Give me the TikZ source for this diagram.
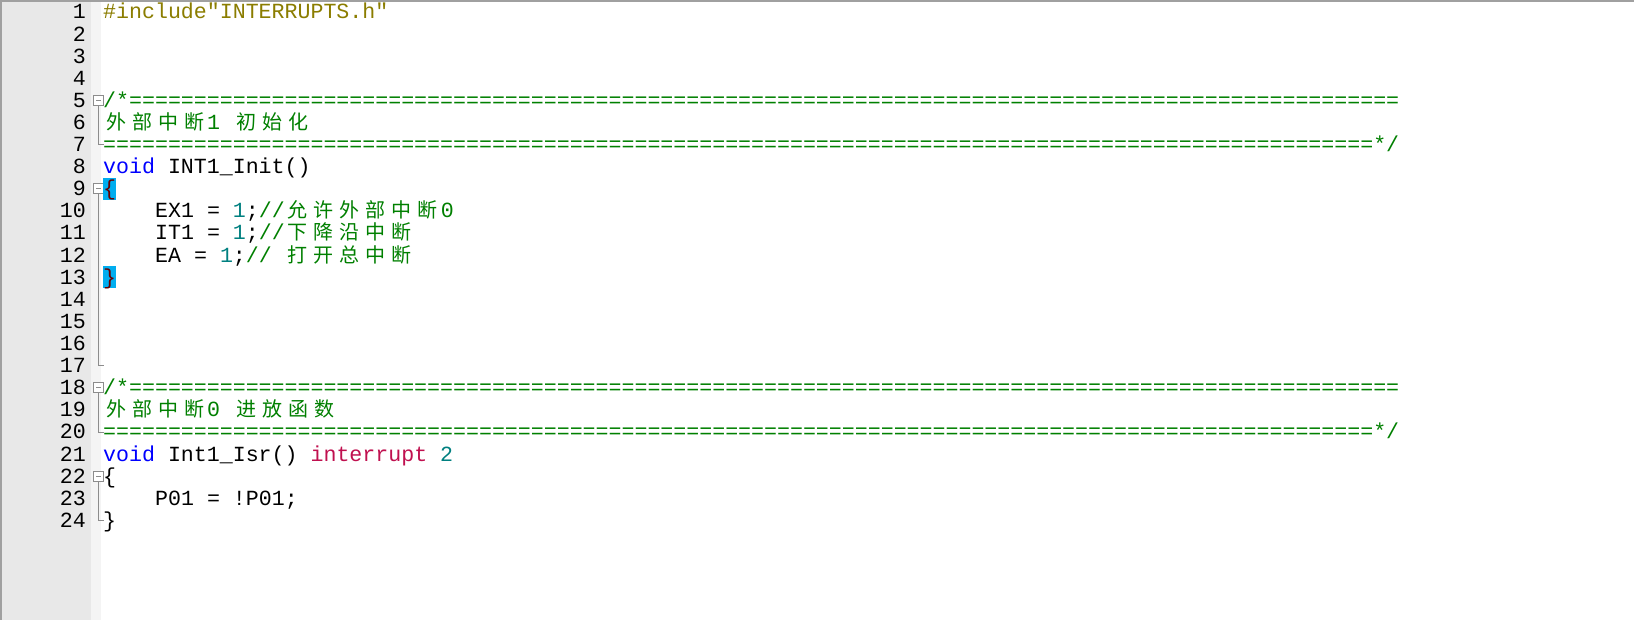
\documentclass[tikz,border=0pt]{standalone}
\usepackage{fontspec}
\setmonofont{Liberation Mono}
\newfontfamily\cjk{Noto Sans CJK SC}
\definecolor{inc}{HTML}{8B7D00}
\definecolor{cmt}{HTML}{008000}
\definecolor{kw}{HTML}{0000FF}
\definecolor{kw2}{HTML}{C0104F}
\definecolor{num}{HTML}{008080}
\definecolor{gut}{HTML}{E8E8E8}
\definecolor{gut2}{HTML}{F4F4F4}
\definecolor{brd}{HTML}{A0A0A0}
\definecolor{fold}{HTML}{8C8C8C}
\newcommand\cz[1]{\makebox[26pt]{\cjk\fontsize{20}{23}\selectfont #1}}
\def\eqt{==========}
\def\eqs{\eqt\eqt\eqt\eqt\eqt\eqt\eqt\eqt\eqt ========}
\tikzset{
  code/.style={anchor=base west,inner sep=0pt,font=\ttfamily\fontsize{21.6}{23}\selectfont},
  lnum/.style={anchor=base east,inner sep=0pt,font=\ttfamily\fontsize{21.6}{23}\selectfont},
  foldbox/.style={draw=fold,fill=white,minimum size=10pt,inner sep=0pt,line width=0.8pt},
  foldline/.style={draw=fold,line width=0.8pt}
}
\begin{document}
\begin{tikzpicture}[x=1pt,y=-1pt]
\useasboundingbox (0,0) rectangle (1634,620);
\fill[white] (0,0) rectangle (1634,620);
\fill[gut] (0,0) rectangle (91,620);
\fill[gut2] (91,0) rectangle (101,620);
\draw[brd,line width=2pt] (0,1) -- (1634,1);
\draw[brd,line width=2pt] (1,0) -- (1,620);
% line numbers
\foreach \n in {1,...,24}{
  \node[lnum] (n\n) at (86,{12+(\n-1)*22.1+7}) {\n};
}
% fold markers
\coordinate (f5) at (98.5,{12+4*22.1});
\coordinate (e7) at (98.5,{12+6*22.1});
\coordinate (f9) at (98.5,{12+8*22.1});
\coordinate (e17) at (98.5,{12+16*22.1});
\coordinate (f18) at (98.5,{12+17*22.1});
\coordinate (e20) at (98.5,{12+19*22.1});
\coordinate (f22) at (98.5,{12+21*22.1});
\coordinate (e24) at (98.5,{12+23*22.1});
\foreach \a/\b in {f5/e7,f9/e17,f18/e20,f22/e24}{
  \draw[foldline] (\a) -- (\b) -- ++(5,0);
  \node[foldbox] at (\a) {};
  \draw[foldline] ([xshift=-2.5pt]\a) -- ([xshift=2.5pt]\a);
}
% brace highlights
\fill[cyan] (103,{12+8*22.1-11}) rectangle (116,{12+8*22.1+11});
\fill[cyan] (103,{12+12*22.1-11}) rectangle (116,{12+12*22.1+11});
% code
\node[code,text=inc] (l1) at (103,{12+0*22.1+7}) {\#include"INTERRUPTS.h"};
\node[code,text=cmt] (l5) at (103,{12+4*22.1+7}) {/*\eqs};
\node[code,text=cmt] (l6) at (103,{12+5*22.1+7}) {\cz{外}\cz{部}\cz{中}\cz{断}1 \cz{初}\cz{始}\cz{化}};
\node[code,text=cmt] (l7) at (103,{12+6*22.1+7}) {\eqs*/};
\node[code] (l8) at (103,{12+7*22.1+7}) {\textcolor{kw}{void} INT1\_Init()};
\node[code,text=black!60!red] (l9) at (103,{12+8*22.1+7}) {\{};
\node[code] (l10) at (155,{12+9*22.1+7}) {EX1 = \textcolor{num}{1};\textcolor{cmt}{//\cz{允}\cz{许}\cz{外}\cz{部}\cz{中}\cz{断}0}};
\node[code] (l11) at (155,{12+10*22.1+7}) {IT1 = \textcolor{num}{1};\textcolor{cmt}{//\cz{下}\cz{降}\cz{沿}\cz{中}\cz{断}}};
\node[code] (l12) at (155,{12+11*22.1+7}) {EA = \textcolor{num}{1};\textcolor{cmt}{// \cz{打}\cz{开}\cz{总}\cz{中}\cz{断}}};
\node[code,text=black!60!red] (l13) at (103,{12+12*22.1+7}) {\}};
\node[code,text=cmt] (l18) at (103,{12+17*22.1+7}) {/*\eqs};
\node[code,text=cmt] (l19) at (103,{12+18*22.1+7}) {\cz{外}\cz{部}\cz{中}\cz{断}0 \cz{进}\cz{放}\cz{函}\cz{数}};
\node[code,text=cmt] (l20) at (103,{12+19*22.1+7}) {\eqs*/};
\node[code] (l21) at (103,{12+20*22.1+7}) {\textcolor{kw}{void} Int1\_Isr() \textcolor{kw2}{interrupt} \textcolor{num}{2}};
\node[code] (l22) at (103,{12+21*22.1+7}) {\{};
\node[code] (l23) at (155,{12+22*22.1+7}) {P01 = !P01;};
\node[code] (l24) at (103,{12+23*22.1+7}) {\}};
\end{tikzpicture}
\end{document}
